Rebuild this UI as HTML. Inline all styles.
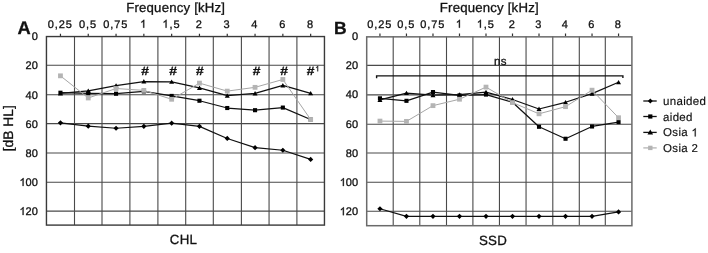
<!DOCTYPE html>
<html><head><meta charset="utf-8"><style>
html,body{margin:0;padding:0;background:#fff;width:708px;height:253px;overflow:hidden}
svg{display:block;will-change:transform}
text{font-family:"Liberation Sans", sans-serif;fill:#111;stroke:#111;stroke-width:0.3px;text-rendering:geometricPrecision}
.h1{fill:none;stroke:none}
</style></head><body>
<svg width="708" height="253" viewBox="0 0 708 253">
<rect width="708" height="253" fill="#fff"/>
<path d="M74.5 36.35V225.1M102 36.35V225.1M129.9 36.35V225.1M157.9 36.35V225.1M185.7 36.35V225.1M213.3 36.35V225.1M241.4 36.35V225.1M269.06 36.35V225.1M296.9 36.35V225.1M46.45 65.3H324.45M46.45 94.8H324.45M46.45 123.6H324.45M46.45 153.05H324.45M46.45 182.3H324.45M46.45 211.1H324.45" stroke="#4a4a4a" stroke-width="1.1" fill="none"/>
<path d="M60.45 33.65V36.35M88.25 33.65V36.35M116.05 33.65V36.35M143.85 33.65V36.35M171.65 33.65V36.35M199.45 33.65V36.35M227.25 33.65V36.35M255.05 33.65V36.35M282.85 33.65V36.35M310.65 33.65V36.35" stroke="#333" stroke-width="1.2" fill="none"/>
<rect x="46.45" y="36.55" width="278" height="188.55" stroke="#3a3a3a" stroke-width="1.4" fill="none"/>
<path d="M60.45 122.87 L88.25 126.22 L116.05 128.26 L143.85 126.37 L171.65 123.17 L199.45 126.37 L227.25 138.46 L255.05 147.64 L282.85 150.26 L310.65 159.43" stroke="#111" stroke-width="1.2" fill="none" stroke-linejoin="round"/>
<path d="M60.45 120.27L63.05 122.87L60.45 125.47L57.85 122.87Z" fill="#000"/>
<path d="M88.25 123.62L90.85 126.22L88.25 128.82L85.65 126.22Z" fill="#000"/>
<path d="M116.05 125.66L118.65 128.26L116.05 130.86L113.45 128.26Z" fill="#000"/>
<path d="M143.85 123.77L146.45 126.37L143.85 128.97L141.25 126.37Z" fill="#000"/>
<path d="M171.65 120.57L174.25 123.17L171.65 125.77L169.05 123.17Z" fill="#000"/>
<path d="M199.45 123.77L202.05 126.37L199.45 128.97L196.85 126.37Z" fill="#000"/>
<path d="M227.25 135.86L229.85 138.46L227.25 141.06L224.65 138.46Z" fill="#000"/>
<path d="M255.05 145.04L257.65 147.64L255.05 150.24L252.45 147.64Z" fill="#000"/>
<path d="M282.85 147.66L285.45 150.26L282.85 152.86L280.25 150.26Z" fill="#000"/>
<path d="M310.65 156.83L313.25 159.43L310.65 162.03L308.05 159.43Z" fill="#000"/>
<path d="M60.45 92.73 L88.25 93.31 L116.05 93.74 L143.85 91.41 L171.65 95.93 L199.45 100.74 L227.25 108.02 L255.05 110.2 L282.85 107.58 L310.65 119.52" stroke="#111" stroke-width="1.25" fill="none" stroke-linejoin="round"/>
<rect x="58.4" y="90.68" width="4.1" height="4.1" fill="#000"/>
<rect x="86.2" y="91.26" width="4.1" height="4.1" fill="#000"/>
<rect x="114" y="91.69" width="4.1" height="4.1" fill="#000"/>
<rect x="141.8" y="89.36" width="4.1" height="4.1" fill="#000"/>
<rect x="169.6" y="93.88" width="4.1" height="4.1" fill="#000"/>
<rect x="197.4" y="98.69" width="4.1" height="4.1" fill="#000"/>
<rect x="225.2" y="105.97" width="4.1" height="4.1" fill="#000"/>
<rect x="253" y="108.15" width="4.1" height="4.1" fill="#000"/>
<rect x="280.8" y="105.53" width="4.1" height="4.1" fill="#000"/>
<rect x="308.6" y="117.47" width="4.1" height="4.1" fill="#000"/>
<path d="M60.45 93.45 L88.25 90.83 L116.05 85.59 L143.85 81.51 L171.65 81.8 L199.45 87.92 L227.25 95.64 L255.05 93.45 L282.85 85.44 L310.65 93.31" stroke="#111" stroke-width="1.25" fill="none" stroke-linejoin="round"/>
<path d="M60.45 91.05L62.95 95.45L57.95 95.45Z" fill="#000"/>
<path d="M88.25 88.43L90.75 92.83L85.75 92.83Z" fill="#000"/>
<path d="M116.05 83.19L118.55 87.59L113.55 87.59Z" fill="#000"/>
<path d="M143.85 79.11L146.35 83.51L141.35 83.51Z" fill="#000"/>
<path d="M171.65 79.4L174.15 83.8L169.15 83.8Z" fill="#000"/>
<path d="M199.45 85.52L201.95 89.92L196.95 89.92Z" fill="#000"/>
<path d="M227.25 93.24L229.75 97.64L224.75 97.64Z" fill="#000"/>
<path d="M255.05 91.05L257.55 95.45L252.55 95.45Z" fill="#000"/>
<path d="M282.85 83.04L285.35 87.44L280.35 87.44Z" fill="#000"/>
<path d="M310.65 90.91L313.15 95.31L308.15 95.31Z" fill="#000"/>
<path d="M60.45 75.83 L88.25 97.97 L116.05 88.5 L143.85 90.39 L171.65 99.28 L199.45 83.11 L227.25 91.12 L255.05 87.34 L282.85 79.47 L310.65 119.52" stroke="#a6a6a6" stroke-width="1.0" fill="none" stroke-linejoin="round"/>
<rect x="58.05" y="73.43" width="4.8" height="4.8" fill="#b4b4b4"/>
<rect x="85.85" y="95.57" width="4.8" height="4.8" fill="#b4b4b4"/>
<rect x="113.65" y="86.1" width="4.8" height="4.8" fill="#b4b4b4"/>
<rect x="141.45" y="87.99" width="4.8" height="4.8" fill="#b4b4b4"/>
<rect x="169.25" y="96.88" width="4.8" height="4.8" fill="#b4b4b4"/>
<rect x="197.05" y="80.71" width="4.8" height="4.8" fill="#b4b4b4"/>
<rect x="224.85" y="88.72" width="4.8" height="4.8" fill="#b4b4b4"/>
<rect x="252.65" y="84.94" width="4.8" height="4.8" fill="#b4b4b4"/>
<rect x="280.45" y="77.07" width="4.8" height="4.8" fill="#b4b4b4"/>
<rect x="308.25" y="117.12" width="4.8" height="4.8" fill="#b4b4b4"/>
<text x="60.25" y="27.7" font-size="11" letter-spacing="0.9" text-anchor="middle">0,25</text>
<text x="88.05" y="27.7" font-size="11" letter-spacing="0.9" text-anchor="middle">0,5</text>
<text x="115.85" y="27.7" font-size="11" letter-spacing="0.9" text-anchor="middle">0,75</text>
<text class="t1" x="143.65" y="27.7" font-size="11" letter-spacing="0.9" text-anchor="middle"><tspan class="h1">1</tspan></text>
<text class="t1" x="171.45" y="27.7" font-size="11" letter-spacing="0.9" text-anchor="middle"><tspan class="h1">1</tspan>,5</text>
<text x="199.25" y="27.7" font-size="11" letter-spacing="0.9" text-anchor="middle">2</text>
<text x="227.05" y="27.7" font-size="11" letter-spacing="0.9" text-anchor="middle">3</text>
<text x="254.85" y="27.7" font-size="11" letter-spacing="0.9" text-anchor="middle">4</text>
<text x="282.65" y="27.7" font-size="11" letter-spacing="0.9" text-anchor="middle">6</text>
<text x="310.45" y="27.7" font-size="11" letter-spacing="0.9" text-anchor="middle">8</text>
<text x="37.85" y="40.25" font-size="11" text-anchor="end">0</text>
<text x="37.85" y="69.38" font-size="11" text-anchor="end">20</text>
<text x="37.85" y="98.51" font-size="11" text-anchor="end">40</text>
<text x="37.85" y="127.64" font-size="11" text-anchor="end">60</text>
<text x="37.85" y="156.77" font-size="11" text-anchor="end">80</text>
<text class="t1" x="37.85" y="185.9" font-size="11" text-anchor="end"><tspan class="h1">1</tspan>00</text>
<text class="t1" x="37.85" y="215.03" font-size="11" text-anchor="end"><tspan class="h1">1</tspan>20</text>
<text x="175.7" y="11.7" font-size="13.2" letter-spacing="0.2" text-anchor="middle">Frequency [kHz]</text>
<path d="M393.2 36.25V225.7M419.8 36.25V225.7M446.5 36.25V225.7M472.9 36.25V225.7M499.45 36.25V225.7M526.05 36.25V225.7M552.8 36.25V225.7M579.3 36.25V225.7M605.3 36.25V225.7M366.7 65.4H631.9M366.7 94.85H631.9M366.7 124.3H631.9M366.7 153H631.9M366.7 182.3H631.9M366.7 211.3H631.9" stroke="#4a4a4a" stroke-width="1.1" fill="none"/>
<path d="M379.95 33.55V36.25M406.46 33.55V36.25M432.98 33.55V36.25M459.49 33.55V36.25M486 33.55V36.25M512.5 33.55V36.25M539.01 33.55V36.25M565.52 33.55V36.25M592.03 33.55V36.25M618.55 33.55V36.25" stroke="#333" stroke-width="1.2" fill="none"/>
<rect x="366.7" y="36.85" width="265.2" height="188.85" stroke="#6a6a6a" stroke-width="1.5" fill="none"/>
<path d="M379.95 208.75 L406.46 216.34 L432.98 216.34 L459.49 216.34 L486 216.34 L512.5 216.34 L539.01 216.34 L565.52 216.34 L592.03 216.34 L618.55 211.96" stroke="#111" stroke-width="1.2" fill="none" stroke-linejoin="round"/>
<path d="M379.95 206.15L382.56 208.75L379.95 211.35L377.35 208.75Z" fill="#000"/>
<path d="M406.46 213.74L409.06 216.34L406.46 218.94L403.86 216.34Z" fill="#000"/>
<path d="M432.98 213.74L435.58 216.34L432.98 218.94L430.38 216.34Z" fill="#000"/>
<path d="M459.49 213.74L462.09 216.34L459.49 218.94L456.88 216.34Z" fill="#000"/>
<path d="M486 213.74L488.6 216.34L486 218.94L483.39 216.34Z" fill="#000"/>
<path d="M512.5 213.74L515.11 216.34L512.5 218.94L509.9 216.34Z" fill="#000"/>
<path d="M539.01 213.74L541.62 216.34L539.01 218.94L536.41 216.34Z" fill="#000"/>
<path d="M565.52 213.74L568.12 216.34L565.52 218.94L562.92 216.34Z" fill="#000"/>
<path d="M592.03 213.74L594.63 216.34L592.03 218.94L589.43 216.34Z" fill="#000"/>
<path d="M618.55 209.36L621.15 211.96L618.55 214.56L615.95 211.96Z" fill="#000"/>
<path d="M379.95 98.34 L406.46 100.82 L432.98 92.07 L459.49 95.43 L486 94.55 L512.5 102.28 L539.01 126.79 L565.52 138.75 L592.03 126.49 L618.55 122.12" stroke="#111" stroke-width="1.25" fill="none" stroke-linejoin="round"/>
<rect x="377.9" y="96.29" width="4.1" height="4.1" fill="#000"/>
<rect x="404.41" y="98.77" width="4.1" height="4.1" fill="#000"/>
<rect x="430.93" y="90.02" width="4.1" height="4.1" fill="#000"/>
<rect x="457.44" y="93.38" width="4.1" height="4.1" fill="#000"/>
<rect x="483.94" y="92.5" width="4.1" height="4.1" fill="#000"/>
<rect x="510.45" y="100.23" width="4.1" height="4.1" fill="#000"/>
<rect x="536.97" y="124.74" width="4.1" height="4.1" fill="#000"/>
<rect x="563.48" y="136.69" width="4.1" height="4.1" fill="#000"/>
<rect x="589.99" y="124.44" width="4.1" height="4.1" fill="#000"/>
<rect x="616.5" y="120.07" width="4.1" height="4.1" fill="#000"/>
<path d="M379.95 99.95 L406.46 93.09 L432.98 95.14 L459.49 94.7 L486 92.22 L512.5 99.51 L539.01 108.99 L565.52 102.28 L592.03 93.68 L618.55 82.3" stroke="#111" stroke-width="1.25" fill="none" stroke-linejoin="round"/>
<path d="M379.95 97.55L382.45 101.95L377.45 101.95Z" fill="#000"/>
<path d="M406.46 90.69L408.96 95.09L403.96 95.09Z" fill="#000"/>
<path d="M432.98 92.74L435.48 97.14L430.48 97.14Z" fill="#000"/>
<path d="M459.49 92.3L461.99 96.7L456.99 96.7Z" fill="#000"/>
<path d="M486 89.82L488.5 94.22L483.5 94.22Z" fill="#000"/>
<path d="M512.5 97.11L515 101.51L510 101.51Z" fill="#000"/>
<path d="M539.01 106.59L541.51 110.99L536.51 110.99Z" fill="#000"/>
<path d="M565.52 99.88L568.02 104.28L563.02 104.28Z" fill="#000"/>
<path d="M592.03 91.28L594.53 95.68L589.53 95.68Z" fill="#000"/>
<path d="M618.55 79.9L621.05 84.3L616.05 84.3Z" fill="#000"/>
<path d="M379.95 121.1 L406.46 121.39 L432.98 105.64 L459.49 99.22 L486 87.11 L512.5 102.57 L539.01 113.8 L565.52 106.66 L592.03 90.18 L618.55 117.74" stroke="#a6a6a6" stroke-width="1.0" fill="none" stroke-linejoin="round"/>
<rect x="377.56" y="118.7" width="4.8" height="4.8" fill="#b4b4b4"/>
<rect x="404.06" y="118.99" width="4.8" height="4.8" fill="#b4b4b4"/>
<rect x="430.58" y="103.24" width="4.8" height="4.8" fill="#b4b4b4"/>
<rect x="457.09" y="96.82" width="4.8" height="4.8" fill="#b4b4b4"/>
<rect x="483.6" y="84.71" width="4.8" height="4.8" fill="#b4b4b4"/>
<rect x="510.11" y="100.17" width="4.8" height="4.8" fill="#b4b4b4"/>
<rect x="536.62" y="111.4" width="4.8" height="4.8" fill="#b4b4b4"/>
<rect x="563.12" y="104.26" width="4.8" height="4.8" fill="#b4b4b4"/>
<rect x="589.63" y="87.78" width="4.8" height="4.8" fill="#b4b4b4"/>
<rect x="616.15" y="115.34" width="4.8" height="4.8" fill="#b4b4b4"/>
<text x="379.75" y="27.7" font-size="11" letter-spacing="0.9" text-anchor="middle">0,25</text>
<text x="406.26" y="27.7" font-size="11" letter-spacing="0.9" text-anchor="middle">0,5</text>
<text x="432.78" y="27.7" font-size="11" letter-spacing="0.9" text-anchor="middle">0,75</text>
<text class="t1" x="459.29" y="27.7" font-size="11" letter-spacing="0.9" text-anchor="middle"><tspan class="h1">1</tspan></text>
<text class="t1" x="485.8" y="27.7" font-size="11" letter-spacing="0.9" text-anchor="middle"><tspan class="h1">1</tspan>,5</text>
<text x="512.3" y="27.7" font-size="11" letter-spacing="0.9" text-anchor="middle">2</text>
<text x="538.81" y="27.7" font-size="11" letter-spacing="0.9" text-anchor="middle">3</text>
<text x="565.32" y="27.7" font-size="11" letter-spacing="0.9" text-anchor="middle">4</text>
<text x="591.83" y="27.7" font-size="11" letter-spacing="0.9" text-anchor="middle">6</text>
<text x="618.35" y="27.7" font-size="11" letter-spacing="0.9" text-anchor="middle">8</text>
<text x="358.1" y="40.15" font-size="11" text-anchor="end">0</text>
<text x="358.1" y="69.32" font-size="11" text-anchor="end">20</text>
<text x="358.1" y="98.49" font-size="11" text-anchor="end">40</text>
<text x="358.1" y="127.66" font-size="11" text-anchor="end">60</text>
<text x="358.1" y="156.83" font-size="11" text-anchor="end">80</text>
<text class="t1" x="358.1" y="186" font-size="11" text-anchor="end"><tspan class="h1">1</tspan>00</text>
<text class="t1" x="358.1" y="215.17" font-size="11" text-anchor="end"><tspan class="h1">1</tspan>20</text>
<text x="489.3" y="11.7" font-size="13.2" letter-spacing="0.2" text-anchor="middle">Frequency [kHz]</text>
<text x="17.4" y="33.7" font-size="18.3" font-weight="bold">A</text>
<text x="334" y="33.9" font-size="17.5" font-weight="bold">B</text>
<text transform="translate(12.9 128.3) rotate(-90)" font-size="13.8" text-anchor="middle">[dB HL]</text>
<text x="183.5" y="243.7" font-size="13.3" letter-spacing="0.3" text-anchor="middle">CHL</text>
<text x="493" y="244.7" font-size="13.3" letter-spacing="0.3" text-anchor="middle">SSD</text>
<text transform="translate(145 75.0) scale(1.15 1)" font-size="12" font-weight="bold" text-anchor="middle">#</text>
<text transform="translate(173.2 75.0) scale(1.15 1)" font-size="12" font-weight="bold" text-anchor="middle">#</text>
<text transform="translate(199.8 75.0) scale(1.15 1)" font-size="12" font-weight="bold" text-anchor="middle">#</text>
<text transform="translate(256.5 75.0) scale(1.15 1)" font-size="12" font-weight="bold" text-anchor="middle">#</text>
<text transform="translate(284.2 75.0) scale(1.15 1)" font-size="12" font-weight="bold" text-anchor="middle">#</text>
<text transform="translate(310.7 75.0) scale(1.15 1)" font-size="12" font-weight="bold" text-anchor="middle">#</text>
<text class="t1" x="315.3" y="71.3" font-size="7.5"><tspan class="h1">1</tspan></text>
<path d="M376.6 78.2V75.9H622.9V77.9" stroke="#111" stroke-width="1.4" fill="none"/>
<text x="500.5" y="65.4" font-size="11.5" letter-spacing="0.4" text-anchor="middle">ns</text>
<path d="M643.3 101H656.7" stroke="#111" stroke-width="1.3"/>
<path d="M650.3 98.5L652.8 101L650.3 103.5L647.8 101Z" fill="#000"/>
<text x="663.1" y="105" font-size="11.5" letter-spacing="0.3" style="stroke-width:0.15px">unaided</text>
<path d="M643.3 116.5H656.7" stroke="#111" stroke-width="1.3"/>
<rect x="648.2" y="114.4" width="4.2" height="4.2" fill="#000"/>
<text x="663.1" y="120.5" font-size="11.5" letter-spacing="0.3" style="stroke-width:0.15px">aided</text>
<path d="M643.3 132.4H656.7" stroke="#111" stroke-width="1.3"/>
<path d="M650.3 129.4L653.1 134.4L647.5 134.4Z" fill="#000"/>
<text class="t1" x="663.1" y="136.4" font-size="11.5" letter-spacing="0.3" style="stroke-width:0.15px">Osia <tspan class="h1">1</tspan></text>
<path d="M643.3 147.9H656.7" stroke="#b4b4b4" stroke-width="1.3"/>
<rect x="648.1" y="145.7" width="4.4" height="4.4" fill="#b4b4b4"/>
<text x="663.1" y="151.9" font-size="11.5" letter-spacing="0.3" style="stroke-width:0.15px">Osia 2</text>
<path transform="translate(140.13 27.7) scale(0.005371 -0.005371)" d="M763 0L583 0L583 1147Q518 1085 412 1023Q307 961 223 930L223 1104Q374 1175 487 1276Q600 1377 647 1472L763 1472Z" fill="#111" stroke="#111" stroke-width="0.3" vector-effect="non-scaling-stroke"/>
<path transform="translate(162.44 27.7) scale(0.005371 -0.005371)" d="M763 0L583 0L583 1147Q518 1085 412 1023Q307 961 223 930L223 1104Q374 1175 487 1276Q600 1377 647 1472L763 1472Z" fill="#111" stroke="#111" stroke-width="0.3" vector-effect="non-scaling-stroke"/>
<path transform="translate(19.47 185.9) scale(0.005371 -0.005371)" d="M763 0L583 0L583 1147Q518 1085 412 1023Q307 961 223 930L223 1104Q374 1175 487 1276Q600 1377 647 1472L763 1472Z" fill="#111" stroke="#111" stroke-width="0.3" vector-effect="non-scaling-stroke"/>
<path transform="translate(19.47 215.03) scale(0.005371 -0.005371)" d="M763 0L583 0L583 1147Q518 1085 412 1023Q307 961 223 930L223 1104Q374 1175 487 1276Q600 1377 647 1472L763 1472Z" fill="#111" stroke="#111" stroke-width="0.3" vector-effect="non-scaling-stroke"/>
<path transform="translate(455.77 27.7) scale(0.005371 -0.005371)" d="M763 0L583 0L583 1147Q518 1085 412 1023Q307 961 223 930L223 1104Q374 1175 487 1276Q600 1377 647 1472L763 1472Z" fill="#111" stroke="#111" stroke-width="0.3" vector-effect="non-scaling-stroke"/>
<path transform="translate(476.79 27.7) scale(0.005371 -0.005371)" d="M763 0L583 0L583 1147Q518 1085 412 1023Q307 961 223 930L223 1104Q374 1175 487 1276Q600 1377 647 1472L763 1472Z" fill="#111" stroke="#111" stroke-width="0.3" vector-effect="non-scaling-stroke"/>
<path transform="translate(339.73 186) scale(0.005371 -0.005371)" d="M763 0L583 0L583 1147Q518 1085 412 1023Q307 961 223 930L223 1104Q374 1175 487 1276Q600 1377 647 1472L763 1472Z" fill="#111" stroke="#111" stroke-width="0.3" vector-effect="non-scaling-stroke"/>
<path transform="translate(339.73 215.17) scale(0.005371 -0.005371)" d="M763 0L583 0L583 1147Q518 1085 412 1023Q307 961 223 930L223 1104Q374 1175 487 1276Q600 1377 647 1472L763 1472Z" fill="#111" stroke="#111" stroke-width="0.3" vector-effect="non-scaling-stroke"/>
<path transform="translate(315.3 71.3) scale(0.003662 -0.003662)" d="M763 0L583 0L583 1147Q518 1085 412 1023Q307 961 223 930L223 1104Q374 1175 487 1276Q600 1377 647 1472L763 1472Z" fill="#111" stroke="#111" stroke-width="0.3" vector-effect="non-scaling-stroke"/>
<path transform="translate(691.44 136.4) scale(0.005615 -0.005615)" d="M763 0L583 0L583 1147Q518 1085 412 1023Q307 961 223 930L223 1104Q374 1175 487 1276Q600 1377 647 1472L763 1472Z" fill="#111" stroke="#111" stroke-width="0.15" vector-effect="non-scaling-stroke"/>
</svg>
</body></html>
